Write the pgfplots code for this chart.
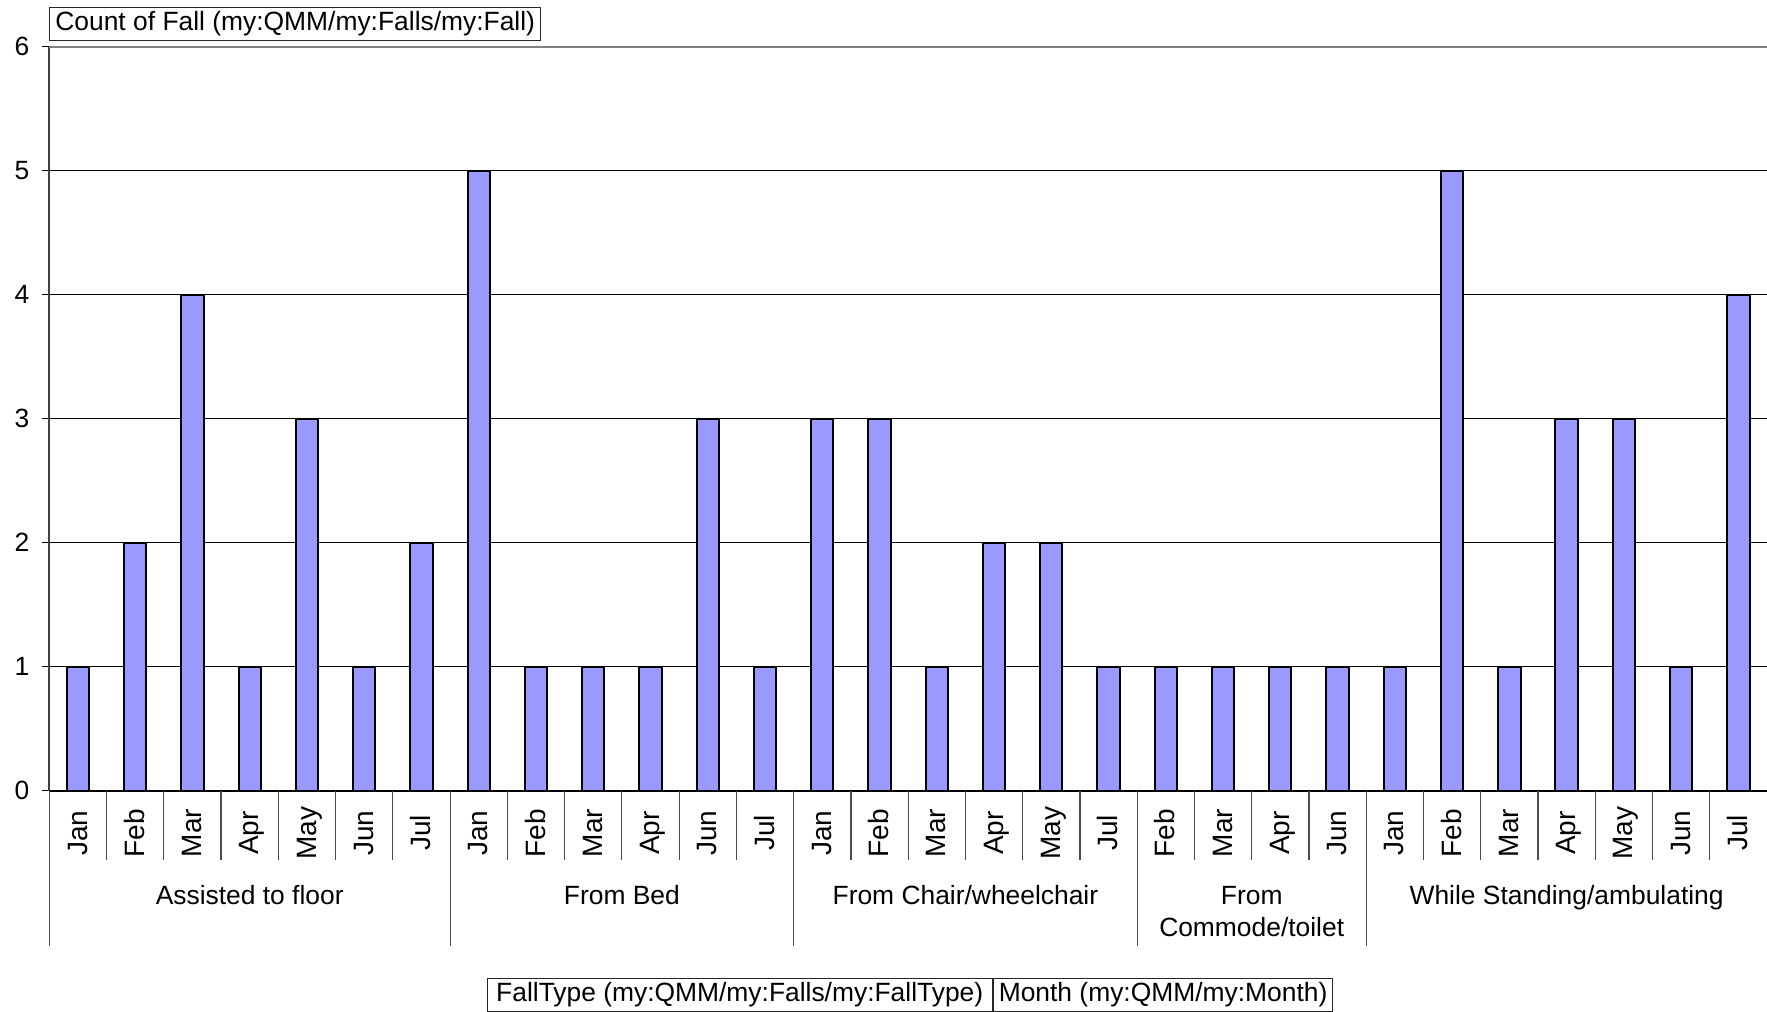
\documentclass[border=0pt]{standalone}
\usepackage{fontspec}
\setmainfont{Liberation Sans}
\newfontfamily\rotfont{Liberation Sans}
\usepackage{pgfplots}
\usepackage{pgfplotstable}
\pgfplotsset{compat=1.18}
\definecolor{barblue}{HTML}{9999FF}
\newcommand\lblfont{\fontsize{13.2}{16.25}\selectfont}
\newcommand\monfont{\rotfont\fontsize{14}{16}\selectfont}

\pgfplotstableread{
x y
0 1
1 2
2 4
3 1
4 3
5 1
6 2
7 5
8 1
9 1
10 1
11 3
12 1
13 3
14 3
15 1
16 2
17 2
18 1
19 1
20 1
21 1
22 1
23 1
24 5
25 1
26 3
27 3
28 1
29 4
}\datatable

\begin{document}
\begin{tikzpicture}
\useasboundingbox (0,0) rectangle (883.5pt,506pt);
\begin{axis}[
  at={(24.65pt,110.65pt)}, anchor=south west,
  scale only axis, width=858.85pt, height=371.95pt,
  xmin=-0.5, xmax=29.5, ymin=0, ymax=6,
  axis lines=left, axis line style={-},
  x axis line style={black, line width=1pt},
  y axis line style={black!75, line width=1pt},
  ytick={0,...,6},
  ytick align=outside, xtick align=inside,
  major tick length=3.8pt,
  y tick style={black, line width=0.6pt},
  x tick style={draw=none},
  ymajorgrids, y grid style={black, line width=0.5pt},
  xtick={0,...,29},
  xticklabels={Jan,Feb,Mar,Apr,May,Jun,Jul,Jan,Feb,Mar,Apr,Jun,Jul,Jan,Feb,Mar,Apr,May,Jul,Feb,Mar,Apr,Jun,Jan,Feb,Mar,Apr,May,Jun,Jul},
  xticklabel style={font=\monfont, yshift=-17.4pt, rotate=90, anchor=center, text height=12.6pt, text depth=3.5pt, inner sep=0pt},
  yticklabel style={font=\lblfont, anchor=east, inner sep=0pt, xshift=-6pt},
  /pgf/number format/assume math mode=true,
  clip=false,
  ybar, bar width=0.39,
]
\addplot[fill=barblue, draw=black, line width=1pt] table[x=x,y=y]{\datatable};

\pgfplotsinvokeforeach{0.5,1.5,2.5,3.5,4.5,5.5,7.5,8.5,9.5,10.5,11.5,13.5,14.5,15.5,16.5,17.5,19.5,20.5,21.5,23.5,24.5,25.5,26.5,27.5,28.5}{
  \draw[black!70, line width=0.6pt] (axis cs:#1,0) -- ++(0pt,-34.5pt);
}
\pgfplotsinvokeforeach{-0.5,6.5,12.5,18.5,22.5}{
  \draw[black!70, line width=0.6pt] (axis cs:#1,0) -- ++(0pt,-77.5pt);
}
\draw[line width=1pt, gray] (rel axis cs:0,1) -- (rel axis cs:1,1);

\node[font=\lblfont, anchor=base] at ([yshift=-56.9pt]axis cs:3,0) {Assisted to floor};
\node[font=\lblfont, anchor=base] at ([yshift=-56.9pt]axis cs:9.5,0) {From Bed};
\node[font=\lblfont, anchor=base] at ([yshift=-56.9pt]axis cs:15.5,0) {From Chair/wheelchair};
\node[font=\lblfont, anchor=base] at ([yshift=-56.9pt]axis cs:20.5,0) {From};
\node[font=\lblfont, anchor=base] at ([yshift=-73.15pt]axis cs:20.5,0) {Commode/toilet};
\node[font=\lblfont, anchor=base] at ([yshift=-56.9pt]axis cs:26,0) {While Standing/ambulating};
\end{axis}

\tikzset{boxlbl/.style={draw=black!85, line width=0.5pt, font=\lblfont, text height=9.6pt, text depth=2.8pt, inner xsep=2.8pt, inner ysep=2.15pt}}
\node[boxlbl, anchor=west] at (24.65pt,494pt) {Count of Fall (my:QMM/my:Falls/my:Fall)};
\node[boxlbl, anchor=west, minimum width=252.5pt] (b1) at (243.35pt,8.5pt) {FallType (my:QMM/my:Falls/my:FallType)};
\node[boxlbl, anchor=west, minimum width=169.2pt] at (b1.east) {Month (my:QMM/my:Month)};
\end{tikzpicture}
\end{document}
